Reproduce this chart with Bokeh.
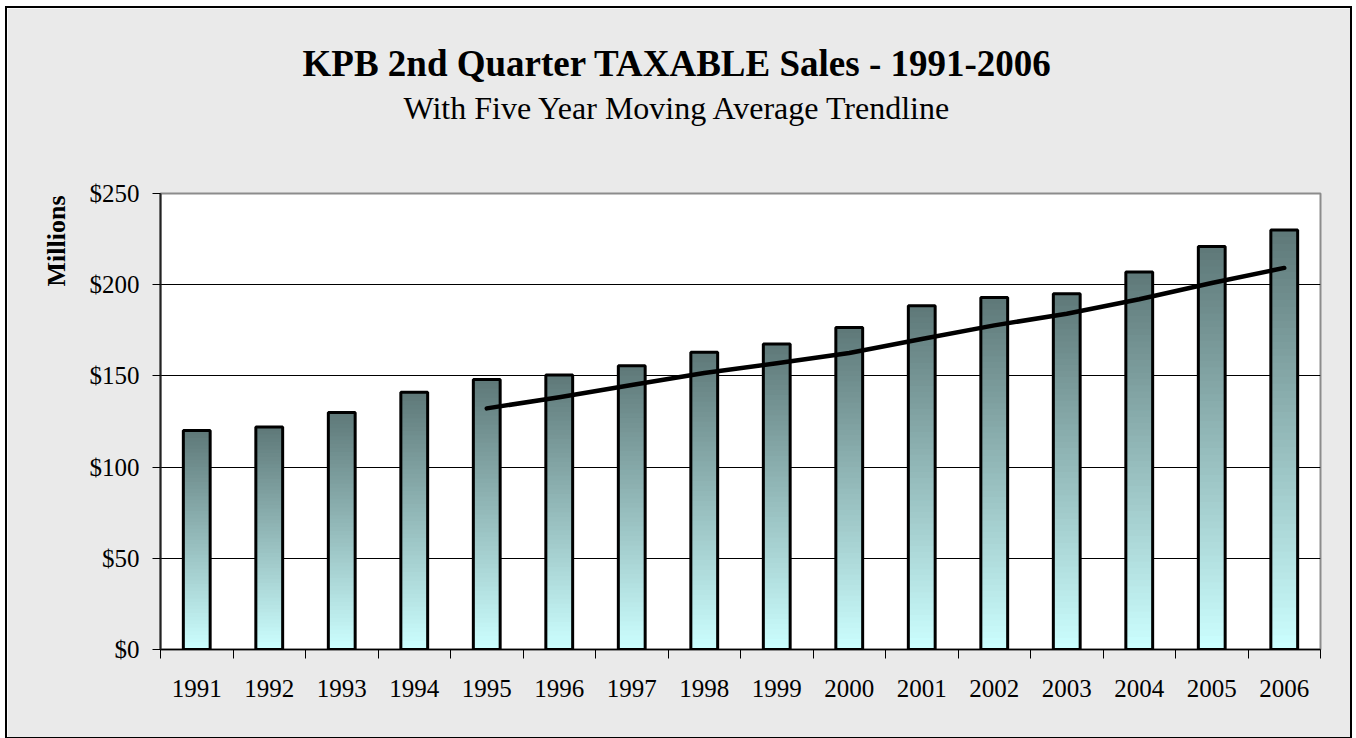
import numpy as np
from bokeh.plotting import figure
from bokeh.models import FixedTicker, NumeralTickFormatter, Title, ColumnDataSource, Range1d
from bokeh.embed import file_html
from bokeh.resources import INLINE

# ---- data ----
years = ["1991", "1992", "1993", "1994", "1995", "1996", "1997", "1998",
         "1999", "2000", "2001", "2002", "2003", "2004", "2005", "2006"]
sales = [120, 122, 130, 141, 148, 150.5, 155.5, 163,
         167.5, 176.5, 188.5, 193, 195, 207, 221, 230]
ma_years = ["1995", "1996", "1997", "1998", "1999", "2000",
            "2001", "2002", "2003", "2004", "2005", "2006"]
ma_values = [132.2, 138.3, 145.0, 151.6, 156.9, 162.6,
             170.2, 177.7, 184.1, 192.0, 200.9, 209.2]
y_ticks = [0, 50, 100, 150, 200, 250]

FONT = "Liberation Serif"
BG = "#EAEAEA"

pos = {yr: i + 0.5 for i, yr in enumerate(years)}
centers = [pos[yr] for yr in years]
bounds = list(range(len(years) + 1))

p = figure(frame_width=1160, frame_height=456,
           min_border_left=153, min_border_right=30,
           min_border_top=185, min_border_bottom=88,
           x_range=Range1d(0, len(years)), y_range=Range1d(0, 250),
           output_backend="svg", toolbar_location=None,
           background_fill_color="white", border_fill_color=BG)
p.styles = {"margin-left": "7px", "margin-top": "8px",
            "outline": "2px solid black", "outline-offset": "0px"}
p.outline_line_color = "#8C8C8C"
p.outline_line_width = 2

# gradient bars: stacked slices from light cyan (bottom) to slate (top)
N = 60
bottom_c = np.array([204, 255, 255])
top_c = np.array([94, 120, 120])
xs, bots, tops, cols = [], [], [], []
for yr, v in zip(years, sales):
    for k in range(N):
        t = (k + 0.5) / N
        c = (bottom_c + (top_c - bottom_c) * t).round().astype(int)
        xs.append(pos[yr])
        bots.append(v * k / N)
        tops.append(min(v * (k + 1.6) / N, v))
        cols.append("#%02x%02x%02x" % tuple(c))
bw = 0.37
p.quad(left=[x - bw / 2 for x in xs], right=[x + bw / 2 for x in xs],
       bottom=bots, top=tops, fill_color=cols, line_color=None)

src = ColumnDataSource(dict(x=centers, top=sales))
p.vbar(x="x", top="top", bottom=0, width=bw, source=src,
       fill_color=None, line_color="black", line_width=3)

# moving average trendline
p.line([pos[yr] for yr in ma_years], ma_values, line_color="black",
       line_width=4.5, line_cap="round", line_join="round")

# grid
p.xgrid.visible = False
p.ygrid.ticker = FixedTicker(ticks=y_ticks[1:-1])
p.ygrid.grid_line_color = "black"
p.ygrid.grid_line_width = 1
p.ygrid.level = "underlay"

# y axis
ya = p.yaxis[0]
ya.ticker = FixedTicker(ticks=y_ticks, minor_ticks=[])
ya.formatter = NumeralTickFormatter(format="$0")
ya.major_label_text_font = FONT
ya.major_label_text_font_size = "25px"
ya.major_label_text_color = "black"
ya.major_tick_in = 0
ya.major_tick_out = 8
ya.major_tick_line_color = "black"
ya.major_label_standoff = 13
ya.axis_line_color = "#222222"
ya.axis_line_width = 2

# x axis: labels at centres, ticks at boundaries
xa = p.xaxis[0]
xa.ticker = FixedTicker(ticks=centers, minor_ticks=bounds)
xa.major_label_overrides = {c: yr for c, yr in zip(centers, years)}
xa.major_label_text_font = FONT
xa.major_label_text_font_size = "25px"
xa.major_label_text_color = "black"
xa.major_tick_in = 0
xa.major_tick_out = 0
xa.minor_tick_in = 0
xa.minor_tick_out = 9
xa.minor_tick_line_color = "black"
xa.minor_tick_line_width = 1
xa.major_label_standoff = 21
xa.axis_line_color = "black"
xa.axis_line_width = 1.5

# titles (stacked outward from the frame)
p.add_layout(Title(text=" ", text_font_size="2px", standoff=64), "above")
p.add_layout(Title(text="With Five Year Moving Average Trendline",
                   text_font=FONT, text_font_size="32px", text_font_style="normal",
                   text_color="black", align="left", offset=243, standoff=0), "above")
p.add_layout(Title(text="KPB 2nd Quarter TAXABLE Sales - 1991-2006",
                   text_font=FONT, text_font_size="37px", text_font_style="bold",
                   text_color="black", align="left", offset=142, standoff=7), "above")
p.add_layout(Title(text="Millions", text_font=FONT, text_font_size="26px",
                   text_font_style="bold", text_color="black",
                   align="right", offset=2, standoff=32), "left")

open("out.html", "w").write(file_html(p, INLINE))
